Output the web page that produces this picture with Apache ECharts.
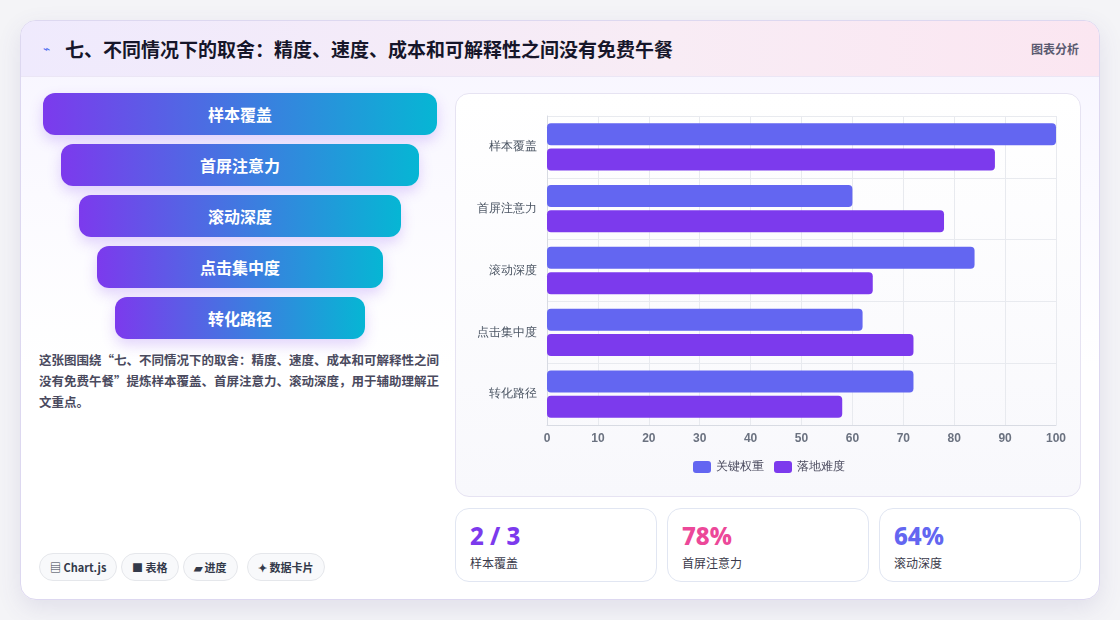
<!DOCTYPE html>
<html><head><meta charset="utf-8">
<script src="https://cdn.jsdelivr.net/npm/echarts@6/dist/echarts.min.js"></script>
<style>
*{box-sizing:border-box;margin:0;padding:0}
body{width:1120px;height:620px;background:#f4f4f7;font-family:"Noto Sans CJK SC","Noto Sans",sans-serif;position:relative;overflow:hidden}
.card{position:absolute;left:20px;top:20px;width:1080px;height:580px;background:linear-gradient(180deg,#f7f5ff,#fff 60%);border:1px solid #ddd8f0;border-radius:16px;box-shadow:0 8px 24px rgba(80,70,140,.12);overflow:hidden}
.head{height:56px;background:linear-gradient(90deg,#efeafd,#f8ecf5 60%,#fbe6f1);border-bottom:1px solid #ebe6f5;position:relative}
.head h1{position:absolute;left:44px;top:14px;font-size:19px;font-weight:700;color:#16162a}
.head .ic{position:absolute;left:22px;top:18px;font-size:12px;color:#4f6ef0}
.head .r{position:absolute;right:20px;top:19px;font-size:12px;font-weight:700;color:#5a5a70}
.fn{position:absolute;height:42px;border-radius:12px;background:linear-gradient(90deg,#7c3aed,#06b6d4);color:#fff;font-weight:700;font-size:16px;display:flex;align-items:center;justify-content:center;box-shadow:0 6px 14px rgba(124,58,237,.22)}
.desc{position:absolute;left:18px;top:328px;width:405px;font-size:12.5px;font-weight:700;color:#4a4a5e;line-height:21px}
.chip{position:absolute;top:532px;height:28px;border:1px solid #e5e7eb;border-radius:14px;background:#f8f9fb;font-size:11px;font-weight:700;color:#333a4a;display:flex;align-items:center;padding:0 10px}
.panel{position:absolute;left:434px;top:72px;width:626px;height:404px;border:1px solid #e6e3f2;border-radius:14px;background:linear-gradient(180deg,#fff,#f8f8fc)}
#c{position:absolute;left:0;top:0;width:626px;height:404px}
.kpi{position:absolute;top:487px;width:202px;height:74px;border:1px solid #e1e6f2;border-radius:14px;background:#fff}
.kpi b{position:absolute;left:14px;top:10px;font-size:24px;font-family:"Noto Sans","Noto Sans CJK SC",sans-serif;font-weight:800}
.kpi span{position:absolute;left:14px;top:45px;font-size:12px;color:#3a3a4a}
</style></head><body>
<div class="card">
 <div class="head"><span class="ic">⌁</span><h1>七、不同情况下的取舍：精度、速度、成本和可解释性之间没有免费午餐</h1><span class="r">图表分析</span></div>
 <div id="funnel"></div>
 <div class="desc">这张图围绕“七、不同情况下的取舍：精度、速度、成本和可解释性之间没有免费午餐”提炼样本覆盖、首屏注意力、滚动深度，用于辅助理解正文重点。</div>
 <div class="chip" style="left:18px">▤ Chart.js</div>
 <div class="chip" style="left:100px">■ 表格</div>
 <div class="chip" style="left:162px">▰ 进度</div>
 <div class="chip" style="left:226px">✦ 数据卡片</div>
 <div class="panel"><div id="c"></div></div>
 <div class="kpi" style="left:434px"><b style="color:#7c3aed">2 / 3</b><span>样本覆盖</span></div>
 <div class="kpi" style="left:646px"><b style="color:#ec4899">78%</b><span>首屏注意力</span></div>
 <div class="kpi" style="left:858px"><b style="color:#6366f1">64%</b><span>滚动深度</span></div>
</div>
<script>
const categories=["样本覆盖","首屏注意力","滚动深度","点击集中度","转化路径"];
const seriesNames=["关键权重","落地难度"];
const weightValues=[100,60,84,62,72];
const difficultyValues=[88,78,64,72,58];
const xTicks=[0,100,10];
const fnBox=document.getElementById('funnel');
categories.forEach((c,i)=>{const d=document.createElement('div');d.className='fn';d.textContent=c;d.style.left=(22+18*i)+'px';d.style.width=(394-36*i)+'px';d.style.top=(72+51*i)+'px';fnBox.appendChild(d);});
const ch=echarts.init(document.getElementById('c'));
ch.setOption({
 grid:{left:91,right:26,top:22,bottom:73},
 legend:{bottom:20,itemWidth:18,itemHeight:12,itemGap:10,textStyle:{color:'#4a4a5e',fontSize:12},data:seriesNames},
 xAxis:{type:'value',min:xTicks[0],max:xTicks[1],interval:xTicks[2],axisLine:{show:true,lineStyle:{color:'#d8dbe3'}},axisTick:{show:false},splitLine:{lineStyle:{color:'#e8eaef'}},axisLabel:{color:'#6b7280',fontWeight:'bold',fontSize:12}},
 yAxis:{type:'category',inverse:true,data:categories,axisLine:{lineStyle:{color:'#d8dbe3'}},axisTick:{show:false},splitLine:{show:true,lineStyle:{color:'#e8eaef'}},axisLabel:{color:'#4b5563',fontSize:12,margin:10}},
 series:[
  {name:seriesNames[0],type:'bar',data:weightValues,barWidth:22,barGap:'15%',itemStyle:{color:'#6366f1',borderRadius:4}},
  {name:seriesNames[1],type:'bar',data:difficultyValues,barWidth:22,itemStyle:{color:'#7c3aed',borderRadius:4}}
 ]
});
</script>
</body></html>
